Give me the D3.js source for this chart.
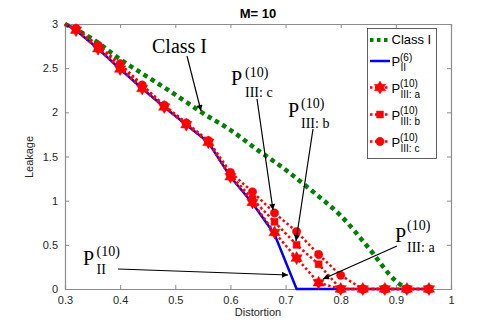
<!DOCTYPE html>
<html><head><meta charset="utf-8">
<script src="https://cdn.jsdelivr.net/npm/d3@7"></script>
<style>body{margin:0;background:#fff}</style>
</head><body>
<svg id="chart" width="498" height="325"></svg>
<script>
// ---- data ----
const xVals = [0.30,0.32,0.36,0.40,0.44,0.48,0.52,0.56,0.60,0.64,0.68,0.72,0.76,0.80,0.84,0.88,0.92,0.96];
const pII6  = [3.00,2.93,2.72,2.49,2.27,2.06,1.86,1.66,1.27,0.97,0.62,0,0,0,0,0,0,0];
const pIIIa = [3.00,2.93,2.72,2.49,2.27,2.06,1.86,1.66,1.27,0.98,0.64,0.35,0.07,0,0,0,0,0];
const pIIIb = [3.00,2.94,2.74,2.52,2.29,2.07,1.87,1.67,1.29,1.02,0.76,0.50,0.28,0,0,0,0,0];
const pIIIc = [3.00,2.95,2.76,2.55,2.31,2.08,1.88,1.68,1.32,1.10,0.86,0.65,0.39,0.155,0,0,0,0];
const classIx = [0.30,0.35,0.40,0.45,0.50,0.55,0.60,0.65,0.70,0.75,0.80,0.85,0.90,0.92];
const classIy = [3.00,2.83,2.60,2.40,2.20,1.99,1.80,1.57,1.35,1.10,0.83,0.47,0.09,0.00];
const xTicks = [0.3,0.4,0.5,0.6,0.7,0.8,0.9,1];
const yTicks = [0,0.5,1,1.5,2,2.5,3];

const svg = d3.select("#chart");
const x = d3.scaleLinear().domain([0.3,1]).range([65,451]);
const y = d3.scaleLinear().domain([0,3]).range([289,24]);
const axisCol = "#8c8c8c", txtCol = "#262626";
const sans = "'Liberation Sans', Arial, sans-serif";
const serif = "'Liberation Serif', 'Times New Roman', serif";

// axes
const gx = svg.append("g").attr("transform","translate(0,289)")
  .call(d3.axisBottom(x).tickValues(xTicks).tickSize(-4).tickPadding(7).tickFormat(d3.format("")));
const gxt = svg.append("g").attr("transform","translate(0,24)")
  .call(d3.axisTop(x).tickValues(xTicks).tickSize(-4).tickFormat(""));
const gy = svg.append("g").attr("transform","translate(65,0)")
  .call(d3.axisLeft(y).tickValues(yTicks).tickSize(-4).tickPadding(7).tickFormat(d3.format("")));
const gyr = svg.append("g").attr("transform","translate(451,0)")
  .call(d3.axisRight(y).tickValues(yTicks).tickSize(-4).tickFormat(""));
[gx,gxt,gy,gyr].forEach(g=>{
  g.selectAll("path.domain").attr("stroke",axisCol).attr("stroke-width",1.2);
  g.selectAll(".tick line").attr("stroke",axisCol);
  g.selectAll(".tick text").attr("fill",txtCol).attr("font-family",sans).attr("font-size",11);
});

// lines
const mk = (xs,ys)=>xs.map((v,i)=>[v,ys[i]]);
const line = d3.line().x(d=>x(d[0])).y(d=>y(d[1]));
const smooth = d3.line().x(d=>x(d[0])).y(d=>y(d[1])).curve(d3.curveMonotoneX);
const plot = svg.append("g");
plot.append("path").datum(mk(classIx,classIy)).attr("d",smooth)
  .attr("fill","none").attr("stroke","#008000").attr("stroke-width",4.5).attr("stroke-dasharray","4.5,4");
plot.append("path").datum(mk(xVals,pII6)).attr("d",line)
  .attr("fill","none").attr("stroke","#0000ff").attr("stroke-width",2.5);

function hexagram(r){
  const ri = r/Math.sqrt(3); let p=[];
  for(let i=0;i<12;i++){const a=-Math.PI/2+i*Math.PI/6; const rr=i%2?ri:r; p.push([rr*Math.cos(a),rr*Math.sin(a)]);}
  return "M"+p.map(q=>q.join(",")).join("L")+"Z";
}
const markers = {
  a: hexagram(6.5),
  b: d3.symbol(d3.symbolSquare, 48)(),
  c: d3.symbol(d3.symbolCircle, 55)()
};
const redSeries = [["c",pIIIc],["b",pIIIb],["a",pIIIa]];
redSeries.forEach(([k,vals])=>{
  const pts = mk(xVals,vals);
  plot.append("path").datum(pts).attr("d",line)
    .attr("fill","none").attr("stroke","#ff0000").attr("stroke-width",2.5).attr("stroke-dasharray","2.5,2.5");
  plot.selectAll(null).data(pts.filter(d=>d[0]>=0.32)).enter().append("path")
    .attr("d",markers[k]).attr("transform",d=>`translate(${x(d[0])},${y(d[1])})`)
    .attr("fill","#ff0000").attr("stroke","#ff0000").attr("stroke-width",0.5);
});

// title & labels
svg.append("text").attr("x",258).attr("y",18).attr("text-anchor","middle")
  .attr("font-family",sans).attr("font-weight","bold").attr("font-size",13).attr("fill","#000").text("M= 10");
svg.append("text").attr("x",258).attr("y",316).attr("text-anchor","middle")
  .attr("font-family",sans).attr("font-size",11).attr("fill",txtCol).text("Distortion");
svg.append("text").attr("transform","translate(33,157) rotate(-90)").attr("text-anchor","middle")
  .attr("font-family",sans).attr("font-size",11).attr("fill",txtCol).text("Leakage");

// annotations
svg.append("defs").append("marker").attr("id","ah").attr("viewBox","0 0 10 10").attr("refX",10).attr("refY",5)
  .attr("markerWidth",7).attr("markerHeight",6).attr("markerUnits","userSpaceOnUse").attr("orient","auto")
  .append("path").attr("d","M0,0L10,5L0,10Z").attr("fill","#000");
function arrow(x1,y1,x2,y2){
  svg.append("line").attr("x1",x1).attr("y1",y1).attr("x2",x2).attr("y2",y2)
    .attr("stroke","#000").attr("stroke-width",1.2).attr("marker-end","url(#ah)");
}
function pLabel(px,pb,sup,sub,sx,supB,subB,fs,ss,fam){
  const g = svg.append("g").attr("font-family",fam).attr("fill","#000");
  g.append("text").attr("x",px).attr("y",pb).attr("font-size",fs).text("P");
  g.append("text").attr("x",sx).attr("y",supB).attr("font-size",ss).text(sup);
  g.append("text").attr("x",sx).attr("y",subB).attr("font-size",ss).text(sub);
}
svg.append("text").attr("x",152).attr("y",53).attr("font-family",serif).attr("font-size",20).text("Class I");
arrow(187,56,201,111);
pLabel(231,85,"(10)","III: c",245,76.5,96.5,20,14,serif);
arrow(257,99,273,210);
pLabel(288,116.5,"(10)","III: b",301,108,128,20,14,serif);
arrow(313,129,296,241);
pLabel(83,264.5,"(10)","II",96.5,256,273.5,20,14,serif);
arrow(118,269,288,275);
pLabel(395,241.5,"(10)","III: a",407,230,251.5,20,14,serif);
arrow(397,246,323,279);

// legend
const lg = svg.append("g");
lg.append("rect").attr("x",367.5).attr("y",28.5).attr("width",69).attr("height",130)
  .attr("fill","#fff").attr("stroke","#3a3a3a").attr("stroke-width",0.8);
const legendItems = [
  {type:"g", y:40, lab:"Class I"},
  {type:"blue", y:61, sup:"(6)", sub:"II"},
  {type:"a", y:87.5, sup:"(10)", sub:"III: a"},
  {type:"b", y:114.5, sup:"(10)", sub:"III: b"},
  {type:"c", y:141.5, sup:"(10)", sub:"III: c"}
];
legendItems.forEach(it=>{
  const lx1=370, lx2=390;
  if(it.type==="g"){
    lg.append("line").attr("x1",lx1).attr("x2",lx2).attr("y1",it.y).attr("y2",it.y)
      .attr("stroke","#008000").attr("stroke-width",4).attr("stroke-dasharray","3.5,3.5");
    lg.append("text").attr("x",391.5).attr("y",it.y+3.8).attr("font-family",sans).attr("font-size",13).attr("fill","#000").text(it.lab);
    return;
  }
  if(it.type==="blue"){
    lg.append("line").attr("x1",lx1).attr("x2",lx2).attr("y1",it.y).attr("y2",it.y)
      .attr("stroke","#0000ff").attr("stroke-width",2.5);
  } else {
    lg.append("line").attr("x1",lx1).attr("x2",lx2).attr("y1",it.y).attr("y2",it.y)
      .attr("stroke","#ff0000").attr("stroke-width",2.5).attr("stroke-dasharray","2.5,2.5");
    lg.append("path").attr("d",markers[it.type]).attr("transform",`translate(380,${it.y})`)
      .attr("fill","#ff0000").attr("stroke","#ff0000").attr("stroke-width",0.5);
  }
  const g = lg.append("g").attr("font-family",sans).attr("fill","#000");
  g.append("text").attr("x",391.5).attr("y",it.y+5).attr("font-size",13).text("P");
  g.append("text").attr("x",400).attr("y",it.y-0.5).attr("font-size",10).text(it.sup);
  g.append("text").attr("x",400.5).attr("y",it.y+10).attr("font-size",10).text(it.sub);
});
</script>
</body></html>
